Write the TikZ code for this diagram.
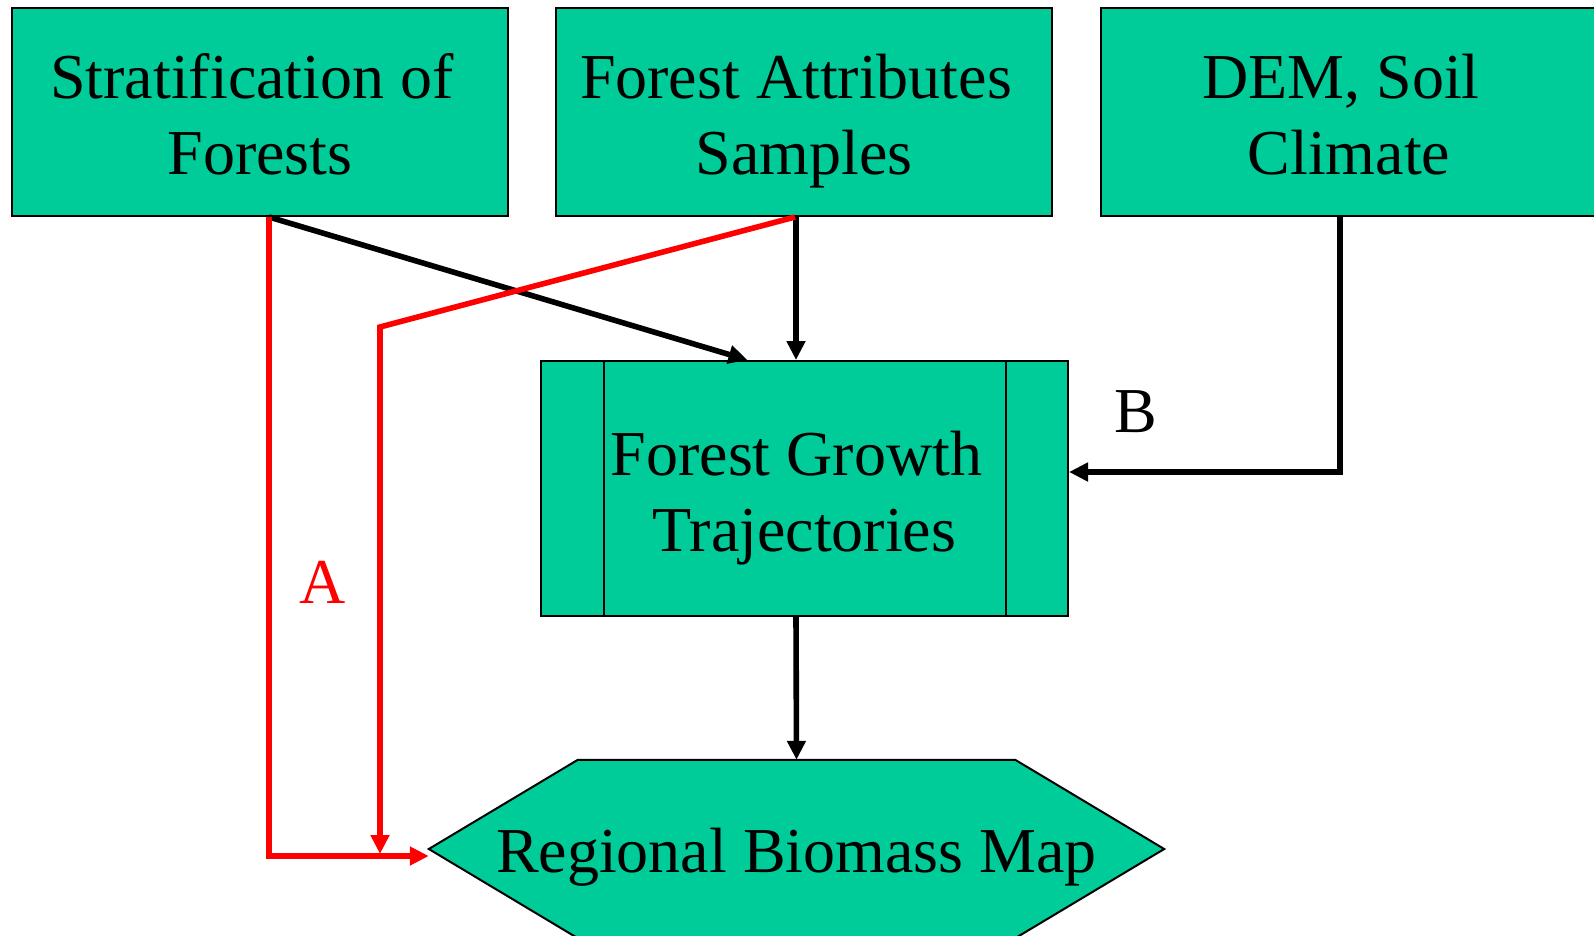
\documentclass[tikz,border=0pt]{standalone}
\usepackage{fontspec}
\setmainfont{Liberation Serif}
\usetikzlibrary{arrows.meta,backgrounds}
\definecolor{boxgreen}{RGB}{0,204,153}
\newcommand\topstrut{\rule{0pt}{66pt}}
\newcommand\botstrut{\rule[-16pt]{0pt}{16pt}}
\begin{document}
\begin{tikzpicture}[x=1pt,y=-1pt,
  box/.style={draw=black, line width=2pt, fill=boxgreen, inner sep=0pt, align=center,
    font=\fontsize{64}{76}\selectfont, minimum width=496pt, minimum height=208pt},
  midbox/.style={box, minimum width=527pt, minimum height=255pt},
  hexnode/.style={inner sep=0pt, font=\fontsize{64}{76}\selectfont, minimum width=735pt, minimum height=178pt},
  conn/.style={line width=5.6pt, -{Triangle[length=19pt,width=18pt]}},
  redconn/.style={conn, draw=red},
  lbl/.style={font=\fontsize{64}{76}\selectfont, inner sep=0pt}]
\useasboundingbox (0,0) rectangle (1594,936);

\node[box] (b1) at (260,112) {\topstrut Stratification of\hspace*{0.25em}\\Forests\botstrut};
\node[box] (b2) at (804,112) {\topstrut Forest Attributes\hspace*{0.25em}\\Samples\botstrut};
\node[box] (b3) at (1349,112) {\topstrut DEM, Soil\hspace*{0.25em}\\Climate\botstrut};
\node[midbox] (mid) at (804.5,488.5) {\rule{0pt}{65pt}Forest Growth\hspace*{0.25em}\\Trajectories\botstrut};
\draw[line width=2pt] ([xshift=64pt]mid.north west) -- ([xshift=64pt]mid.south west);
\draw[line width=2pt] ([xshift=-63pt]mid.north east) -- ([xshift=-63pt]mid.south east);

\node[hexnode] (map) at (796.5,849) {\rule{0pt}{60pt}Regional Biomass Map\rule[-14pt]{0pt}{14pt}};
\begin{scope}[on background layer]
\draw[line width=2pt, fill=boxgreen, line join=miter]
  (map.west) -- ([xshift=149pt]map.north west) -- ([xshift=-149pt]map.north east)
  -- (map.east) -- ([xshift=-149pt]map.south east) -- ([xshift=149pt]map.south west) -- cycle;
\end{scope}

\coordinate (ra) at (380,327);
\coordinate (rb) at (380,854);

\draw[conn] ([xshift=9pt]b1.south) -- ([xshift=-57pt]mid.north);
\draw[conn] ([xshift=-8pt]b2.south) -- ([xshift=-8.5pt]mid.north);
\draw[conn] ([xshift=-9pt]b3.south) |- ([yshift=16.5pt]mid.east);
\draw[conn] ([xshift=-8.5pt]mid.south) -- (map.north);

\draw[redconn] ([xshift=9pt]b1.south) |- ([yshift=-7pt]map.west);
\draw[redconn] ([xshift=-9pt]b2.south) -- (ra) -- (rb);

\node[lbl, text=red] (la) at (323,582) {A};
\node[lbl] (lb) at (1136,412) {B};
\end{tikzpicture}
\end{document}
